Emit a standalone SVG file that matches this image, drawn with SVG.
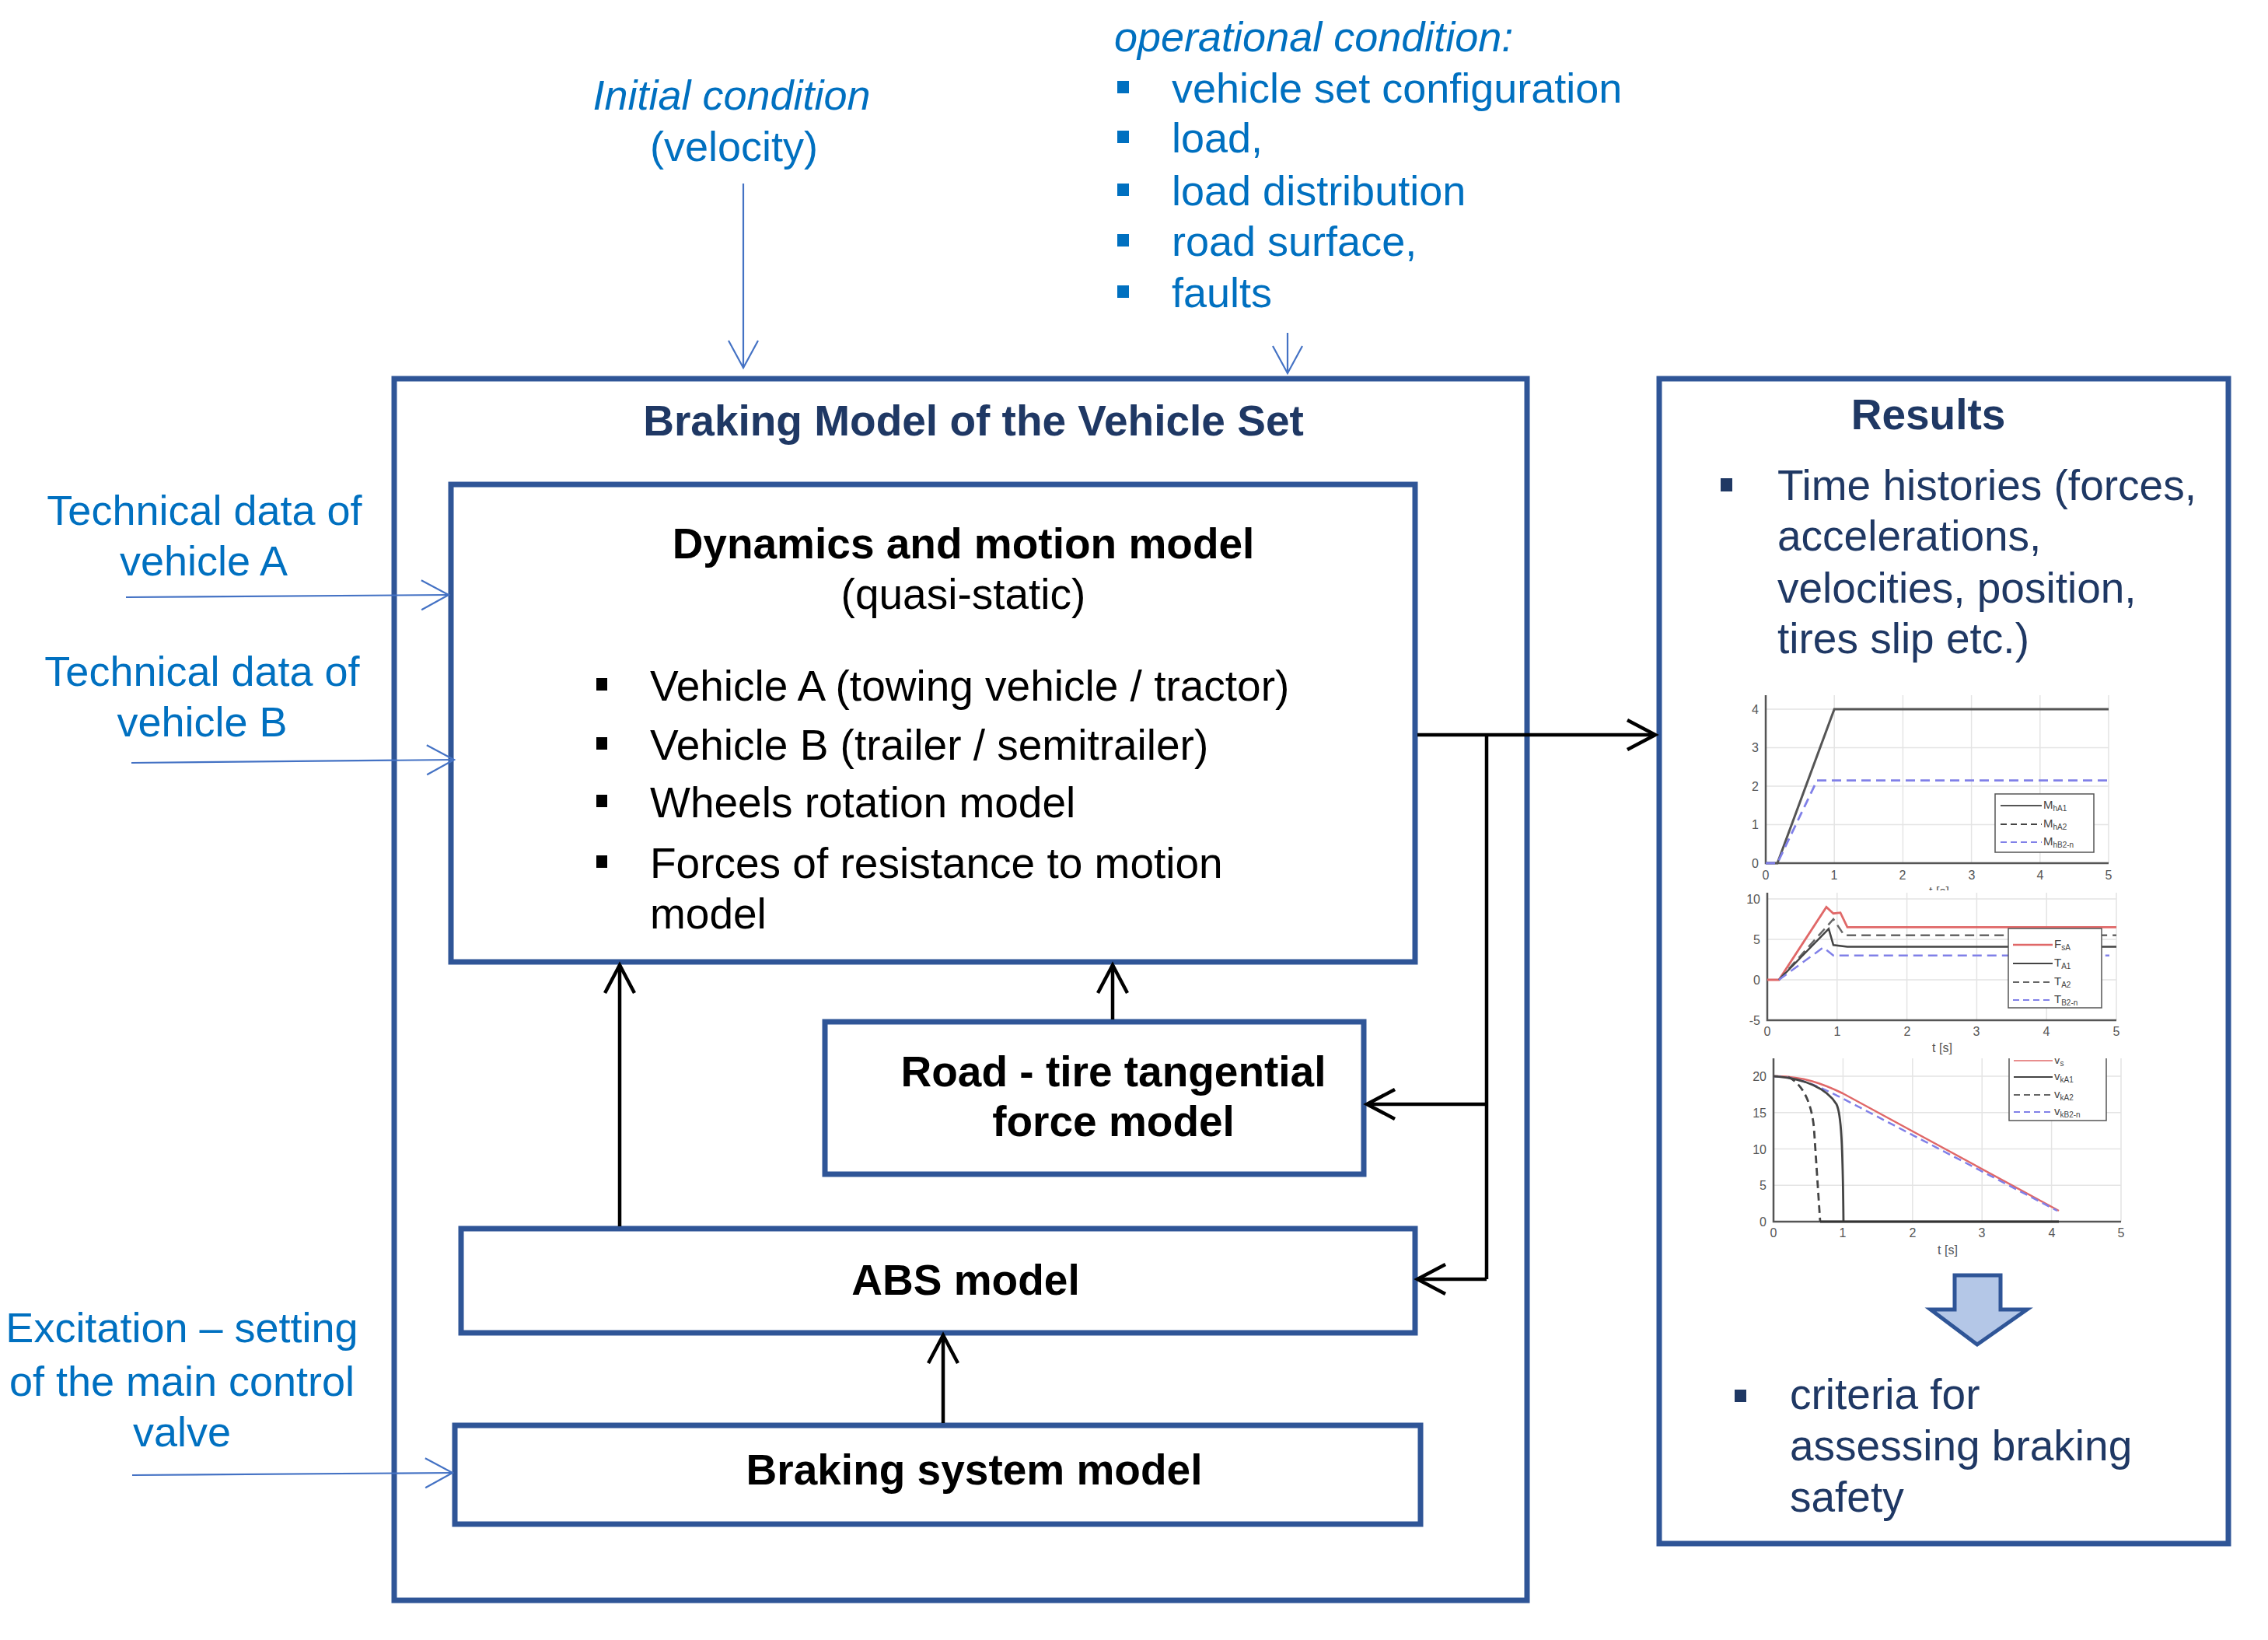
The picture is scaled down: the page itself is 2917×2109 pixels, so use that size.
<svg xmlns="http://www.w3.org/2000/svg" width="2917" height="2109" viewBox="0 0 2917 2109">
<style>
text{font-family:"Liberation Sans",Arial,sans-serif}
.box{fill:#fff;stroke:#2F5597;stroke-width:7}
.blue{font-size:54px;fill:#0070C0}
.it{font-style:italic}
.blk{font-size:55px;fill:#000}
.bold{font-weight:bold}
.navy{fill:#1F3864}
.mid{text-anchor:middle}
.conn{stroke:#000;stroke-width:4.5;fill:none}
.inp{stroke:#4472C4;stroke-width:2.2;fill:none}
.grid{stroke:#E4E4E4;stroke-width:1.5;fill:none}
.axis{stroke:#555;stroke-width:2.5;fill:none}
.tk{font-size:16px;fill:#555}
.lg{font-size:15px;fill:#444}
.sub{font-size:10px}
</style>
<defs>
<marker id="ah" markerUnits="userSpaceOnUse" markerWidth="50" markerHeight="50" refX="38" refY="21" orient="auto">
<path d="M2,2 L38,21 L2,40" fill="none" stroke="#000" stroke-width="4.5"/>
</marker>
<marker id="ab" markerUnits="userSpaceOnUse" markerWidth="50" markerHeight="50" refX="36" refY="20" orient="auto">
<path d="M1,1 L36,20 L1,39" fill="none" stroke="#4472C4" stroke-width="2.2"/>
</marker>
<clipPath id="c3"><rect x="2200" y="1361" width="560" height="280"/></clipPath>
<clipPath id="c1"><rect x="2200" y="880" width="560" height="265"/></clipPath>
</defs>

<!-- external labels -->
<g id="initial-condition">
<text class="blue it mid" x="941" y="141">Initial condition</text>
<text class="blue mid" x="944" y="207">(velocity)</text>
</g>
<g id="operational-condition">
<text class="blue it" x="1433" y="66">operational condition:</text>
<g fill="#0070C0">
<rect x="1437" y="104" width="15" height="16"/>
<rect x="1437" y="168" width="15" height="16"/>
<rect x="1437" y="236" width="15" height="16"/>
<rect x="1437" y="301" width="15" height="16"/>
<rect x="1437" y="367" width="15" height="16"/>
</g>
<text class="blue" x="1507" y="132">vehicle set configuration</text>
<text class="blue" x="1507" y="196">load,</text>
<text class="blue" x="1507" y="264">load distribution</text>
<text class="blue" x="1507" y="329">road surface,</text>
<text class="blue" x="1507" y="395">faults</text>
</g>
<g id="tech-a">
<text class="blue mid" x="263" y="675">Technical data of</text>
<text class="blue mid" x="262" y="740">vehicle A</text>
</g>
<g id="tech-b">
<text class="blue mid" x="260" y="882">Technical data of</text>
<text class="blue mid" x="260" y="947">vehicle B</text>
</g>
<g id="excitation">
<text class="blue mid" x="234" y="1726">Excitation – setting</text>
<text class="blue mid" x="234" y="1795">of the main control</text>
<text class="blue mid" x="234" y="1860">valve</text>
</g>

<!-- outer braking model -->
<g id="braking-model">
<rect class="box" x="507" y="487" width="1457" height="1571"/>
<text class="blk bold navy mid" x="1252" y="560">Braking Model of the Vehicle Set</text>
</g>

<g id="dynamics-model">
<rect class="box" x="580" y="623" width="1240" height="614"/>
<text class="blk bold mid" x="1239" y="718">Dynamics and motion model</text>
<text class="blk mid" x="1239" y="783">(quasi-static)</text>
<g fill="#000">
<rect x="767" y="872" width="14" height="16"/>
<rect x="767" y="948" width="14" height="16"/>
<rect x="767" y="1022" width="14" height="16"/>
<rect x="767" y="1100" width="14" height="16"/>
</g>
<text class="blk" x="836" y="901">Vehicle A (towing vehicle / tractor)</text>
<text class="blk" x="836" y="977">Vehicle B (trailer / semitrailer)</text>
<text class="blk" x="836" y="1051">Wheels rotation model</text>
<text class="blk" x="836" y="1129">Forces of resistance to motion</text>
<text class="blk" x="836" y="1194">model</text>
</g>

<g id="road-tire-model">
<rect class="box" x="1061" y="1314" width="693" height="196"/>
<text class="blk bold mid" x="1432" y="1397">Road - tire tangential</text>
<text class="blk bold mid" x="1432" y="1461">force model</text>
</g>

<g id="abs-model">
<rect class="box" x="593" y="1580" width="1227" height="134"/>
<text class="blk bold mid" x="1242" y="1665">ABS model</text>
</g>

<g id="braking-system-model">
<rect class="box" x="585" y="1833" width="1242" height="127"/>
<text class="blk bold mid" x="1253" y="1909">Braking system model</text>
</g>

<g id="results">
<rect class="box" x="2134" y="487" width="732" height="1498"/>
<text class="blk bold navy mid" x="2480" y="552">Results</text>
<rect x="2213" y="615" width="15" height="17" fill="#1F3864"/>
<text class="blk navy" x="2286" y="643">Time histories (forces,</text>
<text class="blk navy" x="2286" y="708">accelerations,</text>
<text class="blk navy" x="2286" y="775">velocities, position,</text>
<text class="blk navy" x="2286" y="840">tires slip etc.)</text>

<!-- chart 1 -->
<g id="chart1" clip-path="url(#c1)">
<path class="grid" d="M2359.2,894V1110M2447.4,894V1110M2535.6,894V1110M2623.8,894V1110M2712,894V1110M2271,1060.5H2712M2271,1011H2712M2271,961.5H2712M2271,912H2712"/>
<path class="axis" d="M2271,894V1110H2712"/>
<g class="tk">
<text x="2262" y="1116" text-anchor="end">0</text>
<text x="2262" y="1066" text-anchor="end">1</text>
<text x="2262" y="1017" text-anchor="end">2</text>
<text x="2262" y="967" text-anchor="end">3</text>
<text x="2262" y="918" text-anchor="end">4</text>
<text x="2271" y="1131" text-anchor="middle">0</text>
<text x="2359" y="1131" text-anchor="middle">1</text>
<text x="2447" y="1131" text-anchor="middle">2</text>
<text x="2536" y="1131" text-anchor="middle">3</text>
<text x="2624" y="1131" text-anchor="middle">4</text>
<text x="2712" y="1131" text-anchor="middle">5</text>
<text x="2494" y="1152" text-anchor="middle">t [s]</text>
</g>
<path d="M2271,1110H2286L2359.2,912H2712" stroke="#555" stroke-width="3" fill="none"/>
<path d="M2271,1110H2286L2337,1003.6H2712" stroke="#8080E8" stroke-width="2.8" stroke-dasharray="12,7" fill="none"/>
<rect x="2566" y="1021" width="127" height="75" fill="#fff" stroke="#555" stroke-width="1.5"/>
<path d="M2573,1036H2626" stroke="#555" stroke-width="2"/>
<path d="M2573,1060H2626" stroke="#444" stroke-width="2" stroke-dasharray="8,5"/>
<path d="M2573,1083H2626" stroke="#8080E8" stroke-width="2" stroke-dasharray="8,5"/>
<text class="lg" x="2628" y="1040">M<tspan class="sub" dy="3">hA1</tspan></text>
<text class="lg" x="2628" y="1064">M<tspan class="sub" dy="3">hA2</tspan></text>
<text class="lg" x="2628" y="1087">M<tspan class="sub" dy="3">hB2-n</tspan></text>
</g>

<!-- chart 2 -->
<g id="chart2">
<path class="grid" d="M2362.8,1148V1312M2452.6,1148V1312M2542.4,1148V1312M2632.2,1148V1312M2722,1148V1312M2273,1156H2722M2273,1208H2722M2273,1260H2722"/>
<path class="axis" d="M2273,1148V1312H2722"/>
<g class="tk">
<text x="2264" y="1162" text-anchor="end">10</text>
<text x="2264" y="1214" text-anchor="end">5</text>
<text x="2264" y="1266" text-anchor="end">0</text>
<text x="2264" y="1318" text-anchor="end">-5</text>
<text x="2273" y="1332" text-anchor="middle">0</text>
<text x="2363" y="1332" text-anchor="middle">1</text>
<text x="2453" y="1332" text-anchor="middle">2</text>
<text x="2542" y="1332" text-anchor="middle">3</text>
<text x="2632" y="1332" text-anchor="middle">4</text>
<text x="2722" y="1332" text-anchor="middle">5</text>
<text x="2498" y="1353" text-anchor="middle">t [s]</text>
</g>
<path d="M2273,1260H2288L2349,1166.4L2358,1174.7L2367,1173.7L2376,1192.4H2722" stroke="#E06868" stroke-width="2.8" fill="none"/>
<path d="M2288,1260L2358,1182L2372,1202.8H2722" stroke="#666" stroke-width="2.5" stroke-dasharray="12,7" fill="none"/>
<path d="M2288,1260L2352,1194.5L2358,1215.3L2376,1217.4H2722" stroke="#444" stroke-width="2.5" fill="none"/>
<path d="M2288,1260L2345,1218.4L2358,1228.8H2713" stroke="#8080E8" stroke-width="2.5" stroke-dasharray="12,7" fill="none"/>
<rect x="2583" y="1194" width="120" height="102" fill="#fff" stroke="#555" stroke-width="1.5"/>
<path d="M2589,1215H2640" stroke="#E06868" stroke-width="2.5"/>
<path d="M2589,1239H2640" stroke="#444" stroke-width="2"/>
<path d="M2589,1263H2640" stroke="#666" stroke-width="2" stroke-dasharray="8,5"/>
<path d="M2589,1286H2640" stroke="#8080E8" stroke-width="2" stroke-dasharray="8,5"/>
<text class="lg" x="2642" y="1219">F<tspan class="sub" dy="3">sA</tspan></text>
<text class="lg" x="2642" y="1243">T<tspan class="sub" dy="3">A1</tspan></text>
<text class="lg" x="2642" y="1267">T<tspan class="sub" dy="3">A2</tspan></text>
<text class="lg" x="2642" y="1290">T<tspan class="sub" dy="3">B2-n</tspan></text>
</g>

<!-- chart 3 -->
<g id="chart3" clip-path="url(#c3)">
<path class="grid" d="M2370.4,1355V1571M2459.8,1355V1571M2549.2,1355V1571M2638.6,1355V1571M2728,1355V1571M2281,1524.3H2728M2281,1477.5H2728M2281,1430.8H2728M2281,1384H2728"/>
<path class="axis" d="M2281,1355V1571H2728"/>
<g class="tk">
<text x="2272" y="1390" text-anchor="end">20</text>
<text x="2272" y="1437" text-anchor="end">15</text>
<text x="2272" y="1484" text-anchor="end">10</text>
<text x="2272" y="1530" text-anchor="end">5</text>
<text x="2272" y="1577" text-anchor="end">0</text>
<text x="2281" y="1591" text-anchor="middle">0</text>
<text x="2370" y="1591" text-anchor="middle">1</text>
<text x="2460" y="1591" text-anchor="middle">2</text>
<text x="2549" y="1591" text-anchor="middle">3</text>
<text x="2639" y="1591" text-anchor="middle">4</text>
<text x="2728" y="1591" text-anchor="middle">5</text>
<text x="2505" y="1613" text-anchor="middle">t [s]</text>
</g>
<path d="M2281,1384C2320,1384 2345,1394 2370,1406L2648,1557" stroke="#E06868" stroke-width="2.5" fill="none"/>
<path d="M2281,1384C2318,1386 2340,1398 2365,1410L2646,1557" stroke="#8080E8" stroke-width="2.5" stroke-dasharray="10,6" fill="none"/>
<path d="M2281,1384C2320,1386 2350,1400 2362,1420C2368,1432 2370,1470 2371,1571" stroke="#444" stroke-width="2.8" fill="none"/>
<path d="M2300,1385C2320,1395 2330,1420 2333,1450L2341,1571" stroke="#444" stroke-width="2.8" stroke-dasharray="10,6" fill="none"/>
<path d="M2341,1571H2648" stroke="#333" stroke-width="2.8"/>
<rect x="2584" y="1350" width="125" height="91" fill="#fff" stroke="#555" stroke-width="1.5"/>
<path d="M2590,1364H2640" stroke="#E06868" stroke-width="1.5"/>
<path d="M2590,1385H2640" stroke="#444" stroke-width="2"/>
<path d="M2590,1408H2640" stroke="#666" stroke-width="2" stroke-dasharray="8,5"/>
<path d="M2590,1430H2640" stroke="#8080E8" stroke-width="2" stroke-dasharray="8,5"/>
<text class="lg" x="2642" y="1368">v<tspan class="sub" dy="3">s</tspan></text>
<text class="lg" x="2642" y="1389">v<tspan class="sub" dy="3">kA1</tspan></text>
<text class="lg" x="2642" y="1412">v<tspan class="sub" dy="3">kA2</tspan></text>
<text class="lg" x="2642" y="1434">v<tspan class="sub" dy="3">kB2-n</tspan></text>
</g>

<path d="M2514,1640H2573V1684H2607L2543,1729L2483,1684H2514Z" fill="#B4C7E7" stroke="#2F5597" stroke-width="5" stroke-linejoin="miter"/>
<rect x="2231" y="1787" width="15" height="16" fill="#1F3864"/>
<text class="blk navy" x="2302" y="1812">criteria for</text>
<text class="blk navy" x="2302" y="1878">assessing braking</text>
<text class="blk navy" x="2302" y="1944">safety</text>
</g>

<!-- connectors -->
<g id="connectors">
<path class="inp" d="M956,236V473" marker-end="url(#ab)"/>
<path class="inp" d="M1656,428V480" marker-end="url(#ab)"/>
<path class="inp" d="M162,768L577,765" marker-end="url(#ab)"/>
<path class="inp" d="M169,981L584,977" marker-end="url(#ab)"/>
<path class="inp" d="M170,1897L582,1894" marker-end="url(#ab)"/>
<path class="conn" d="M1823,945H2129" marker-end="url(#ah)"/>
<path class="conn" d="M1912,945V1645"/>
<path class="conn" d="M1912,1420H1758" marker-end="url(#ah)"/>
<path class="conn" d="M1912,1645H1823" marker-end="url(#ah)"/>
<path class="conn" d="M797,1577V1241" marker-end="url(#ah)"/>
<path class="conn" d="M1431,1311V1241" marker-end="url(#ah)"/>
<path class="conn" d="M1213,1830V1717" marker-end="url(#ah)"/>
</g>
</svg>
